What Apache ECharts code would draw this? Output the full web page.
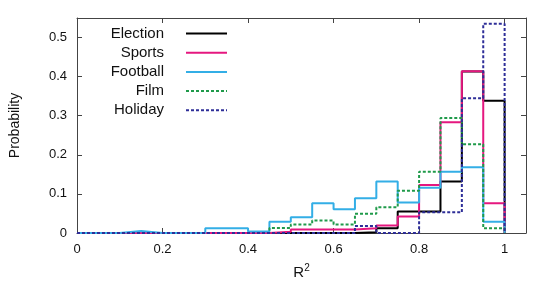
<!DOCTYPE html>
<html>
<head>
<meta charset="utf-8">
<script src="https://cdn.jsdelivr.net/npm/echarts@6/dist/echarts.min.js"></script>
<style>
html,body{margin:0;padding:0;background:#fff;}
#chart{width:545px;height:289px;}
</style>
</head>
<body>
<div id="chart"></div>
<script>
// Bin left edges (bin width 0.05), final edge closes the histogram
const binEdges = [0, 0.05, 0.1, 0.15, 0.2, 0.25, 0.3, 0.35, 0.4, 0.45,
                  0.5, 0.55, 0.6, 0.65, 0.7, 0.75, 0.8, 0.85, 0.9, 0.95];
const lastEdge = 1.0;

const seriesNames = ['Election', 'Sports', 'Football', 'Film', 'Holiday'];

const election = [0, 0, 0, 0, 0, 0, 0, 0, 0, 0,
                  0, 0, 0, 0.002, 0.012, 0.055, 0.055, 0.132, 0.413, 0.338];
const sports   = [0, 0, 0, 0, 0, 0, 0, 0, 0, 0.003,
                  0.009, 0.009, 0.009, 0.012, 0.019, 0.042, 0.123, 0.283, 0.414, 0.076];
const football = [0, 0, 0.005, 0, 0, 0, 0.012, 0.012, 0.004, 0.029,
                  0.040, 0.076, 0.061, 0.089, 0.132, 0.078, 0.116, 0.157, 0.168, 0.029];
const film     = [0, 0, 0, 0, 0, 0, 0, 0, 0, 0.013,
                  0.022, 0.032, 0.022, 0.049, 0.066, 0.108, 0.157, 0.294, 0.227, 0.012];
const holiday  = [0, 0, 0, 0, 0, 0, 0, 0, 0, 0,
                  0, 0, 0, 0.018, 0, 0, 0.053, 0.053, 0.345, 0.535];

const xTicks = [0, 0.2, 0.4, 0.6, 0.8, 1];
const yTicks = [0, 0.1, 0.2, 0.3, 0.4, 0.5];

const colors = ['#000000', '#e5177f', '#33aee6', '#1f9a4a', '#2e2e98'];
const dashes = ['solid', 'solid', 'solid', [3, 2], [3, 2]];
const values = [election, sports, football, film, holiday];

function toSteps(vals) {
  const d = binEdges.map((e, i) => [e, vals[i]]);
  d.push([lastEdge, 0]);
  return d;
}

const font = 'Liberation Sans, Arial, Helvetica, sans-serif';
const frameColor = '#444';

const chart = echarts.init(document.getElementById('chart'), null, {renderer: 'canvas'});

const baseX = {
  type: 'value', min: 0, max: 1.05, interval: 0.2,
  splitLine: {show: false},
  axisLine: {show: true, onZero: false, lineStyle: {color: frameColor, width: 1}},
  axisTick: {show: true, inside: true, length: 5, lineStyle: {color: frameColor}}
};
const baseY = {
  type: 'value', min: 0, max: 0.55, interval: 0.1,
  splitLine: {show: false},
  axisLine: {show: true, onZero: false, lineStyle: {color: frameColor, width: 1}},
  axisTick: {show: true, inside: true, length: 5, lineStyle: {color: frameColor}}
};

chart.setOption({
  animation: false,
  backgroundColor: '#fff',
  grid: {left: 77, right: 19, top: 18, bottom: 56, containLabel: false},
  xAxis: [
    Object.assign({}, baseX, {
      position: 'bottom',
      name: 'R{sup|2}', nameLocation: 'middle', nameGap: 30,
      nameTextStyle: {color: '#111', fontFamily: font, fontSize: 15,
        rich: {sup: {fontSize: 10, verticalAlign: 'top', padding: [0, 0, 10, 0], fontFamily: font, color: '#111'}}},
      axisLabel: {
        color: '#111', fontFamily: font, fontSize: 13, margin: 10,
        formatter: v => (xTicks.some(t => Math.abs(t - v) < 1e-9) ? String(+v.toFixed(2)) : '')
      }
    }),
    Object.assign({}, baseX, {position: 'top', axisLabel: {show: false}})
  ],
  yAxis: [
    Object.assign({}, baseY, {
      position: 'left',
      name: 'Probability', nameLocation: 'middle', nameGap: 55,
      nameTextStyle: {color: '#111', fontFamily: font, fontSize: 14},
      axisLabel: {
        color: '#111', fontFamily: font, fontSize: 13, margin: 10,
        formatter: v => (yTicks.some(t => Math.abs(t - v) < 1e-9) ? String(+v.toFixed(2)) : '')
      }
    }),
    Object.assign({}, baseY, {position: 'right', axisLabel: {show: false}})
  ],
  legend: {
    orient: 'vertical', align: 'right',
    right: 317, top: 26, padding: 0,
    itemWidth: 41, itemHeight: 14, itemGap: 4.2,
    itemStyle: {color: 'rgba(0,0,0,0)', borderColor: 'rgba(0,0,0,0)', borderWidth: 0, opacity: 0},
    textStyle: {color: '#111', fontFamily: font, fontSize: 15, lineHeight: 14, padding: [0, 17, 0, 0]},
    data: seriesNames
  },
  series: seriesNames.map((name, i) => ({
    name: name,
    type: 'line',
    step: 'end',
    symbol: 'none',
    xAxisIndex: 0, yAxisIndex: 0,
    lineStyle: {color: colors[i], width: 2, type: dashes[i]},
    itemStyle: {color: colors[i]},
    data: toSteps(values[i]),
    z: 2 + i
  }))
});
</script>
</body>
</html>
